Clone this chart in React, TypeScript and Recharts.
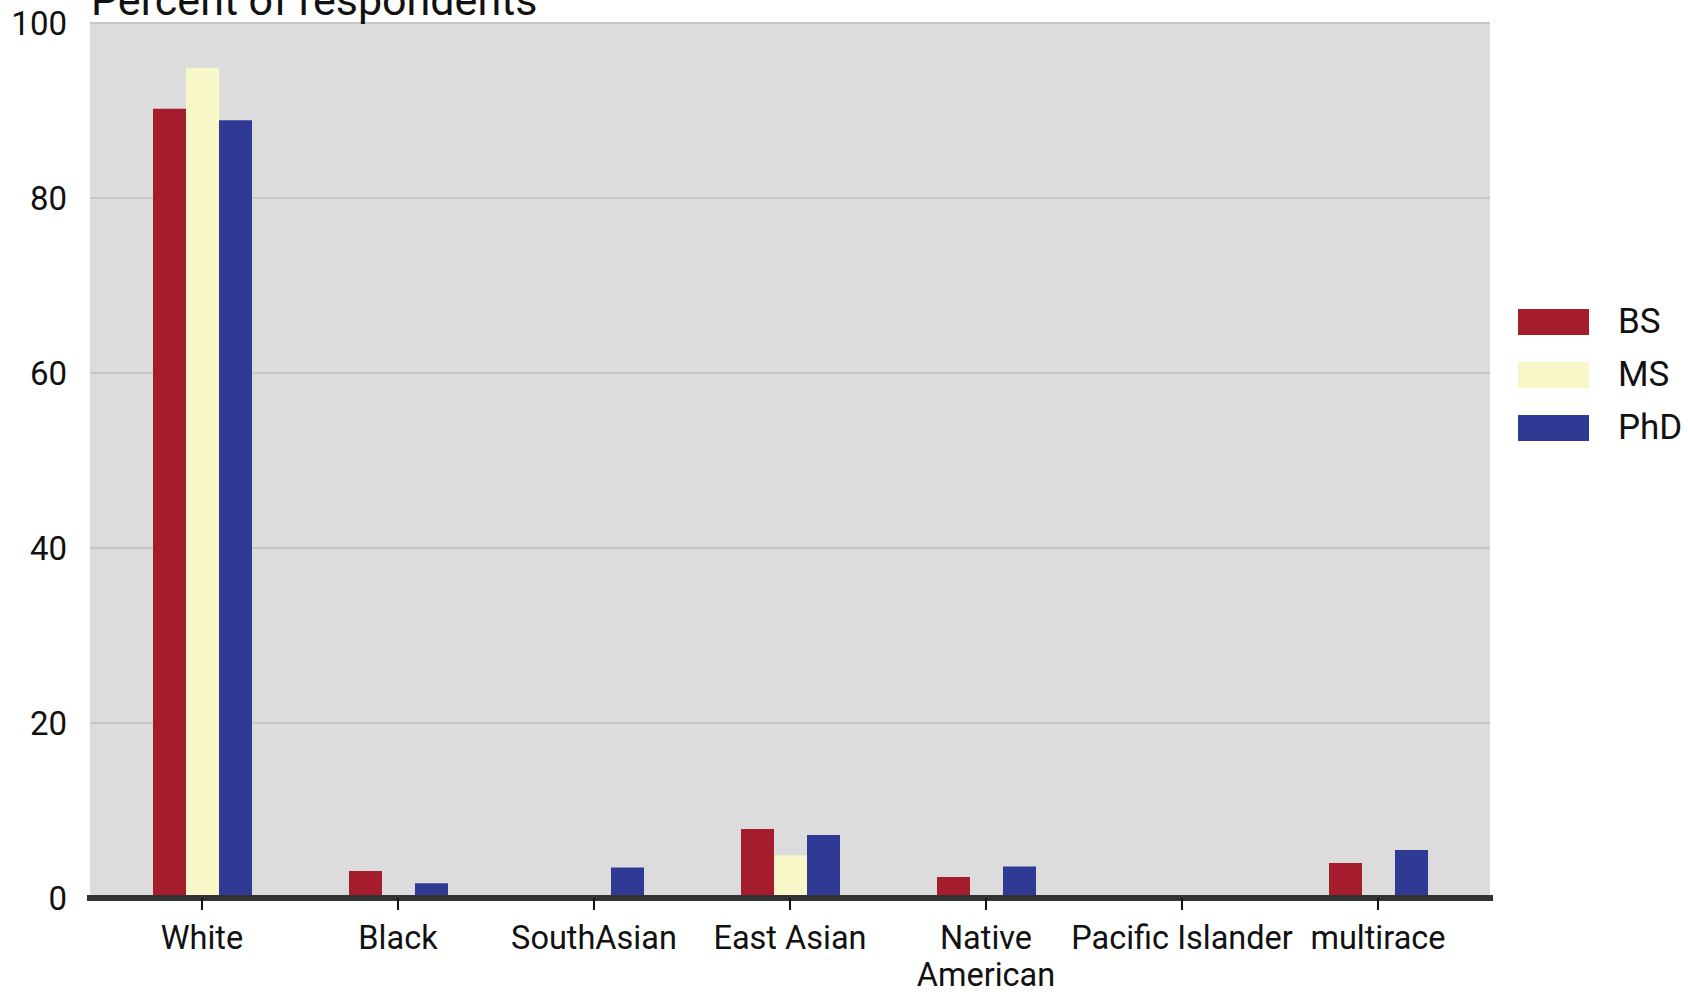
import { BarChart, Bar, XAxis, YAxis, CartesianGrid, Legend } from 'recharts';

const categories = [
  'White',
  'Black',
  'SouthAsian',
  'East Asian',
  'Native\nAmerican',
  'Pacific Islander',
  'multirace',
];
const bsValues = [90.2, 3.1, 0, 7.9, 2.4, 0, 4.0];
const msValues = [94.9, 0, 0, 4.9, 0, 0, 0];
const phdValues = [88.9, 1.7, 3.5, 7.2, 3.6, 0, 5.5];
const yTicks = [0, 20, 40, 60, 80, 100];

const rows = categories.map((name, i) => ({
  name,
  BS: bsValues[i],
  MS: msValues[i],
  PhD: phdValues[i],
}));

const FONT = 'Roboto, "Noto Sans", sans-serif';

function CategoryTick({ x, y, payload }: any) {
  const lines = String(payload.value).split('\n');
  return (
    <text x={x} y={y} textAnchor="middle" fill="#111" fontSize={32.5} fontFamily={FONT}>
      {lines.map((line, i) => (
        <tspan key={i} x={x} dy={i === 0 ? 31 : 37}>
          {line}
        </tspan>
      ))}
    </text>
  );
}

function SwatchLegend({ payload }: any) {
  return (
    <div>
      {(payload ?? []).map((entry: any) => (
        <div key={entry.value} style={{ display: 'flex', alignItems: 'center', height: 53 }}>
          <div style={{ width: 71, height: 26, background: entry.color }} />
          <span style={{ marginLeft: 29, fontSize: 35, fontFamily: FONT, color: '#111' }}>
            {entry.value}
          </span>
        </div>
      ))}
    </div>
  );
}

export default function App() {
  return (
    <div style={{ position: 'absolute', left: 0, top: 0, width: 1688, height: 992, background: '#fff' }}>
      <BarChart
        width={1688}
        height={992}
        data={rows}
        margin={{ top: 23, right: 28, bottom: 0, left: 0 }}
        barCategoryGap="25%"
        barGap={0}
      >
        <CartesianGrid vertical={false} stroke="#c6c6c6" strokeWidth={2} fill="#dcdcdc" fillOpacity={1} />
        <XAxis
          dataKey="name"
          interval={0}
          height={94}
          padding={{ left: 14, right: 14 }}
          axisLine={{ stroke: '#333', strokeWidth: 6, strokeLinecap: 'square' }}
          tickLine={{ stroke: '#111', strokeWidth: 2 }}
          tickSize={12}
          tickMargin={8}
          tick={<CategoryTick />}
        />
        <YAxis
          width={90}
          domain={[0, 100]}
          ticks={yTicks}
          axisLine={false}
          tickLine={false}
          tickSize={0}
          tickMargin={23}
          tick={{ fontSize: 33, fill: '#111', fontFamily: FONT }}
        />
        <Legend
          layout="vertical"
          align="right"
          verticalAlign="top"
          width={170}
          wrapperStyle={{ top: 295, right: 0 }}
          content={<SwatchLegend />}
        />
        <Bar dataKey="BS" name="BS" fill="#a51c2d" isAnimationActive={false} />
        <Bar dataKey="MS" name="MS" fill="#f8f7c8" isAnimationActive={false} />
        <Bar dataKey="PhD" name="PhD" fill="#2f3a94" isAnimationActive={false} />
      </BarChart>
      <svg
        width={1688}
        height={60}
        style={{ position: 'absolute', left: 0, top: 0, pointerEvents: 'none' }}
      >
        <text x={91} y={15} fontSize={43} fontFamily={FONT} fill="#111">
          Percent of respondents
        </text>
      </svg>
    </div>
  );
}
